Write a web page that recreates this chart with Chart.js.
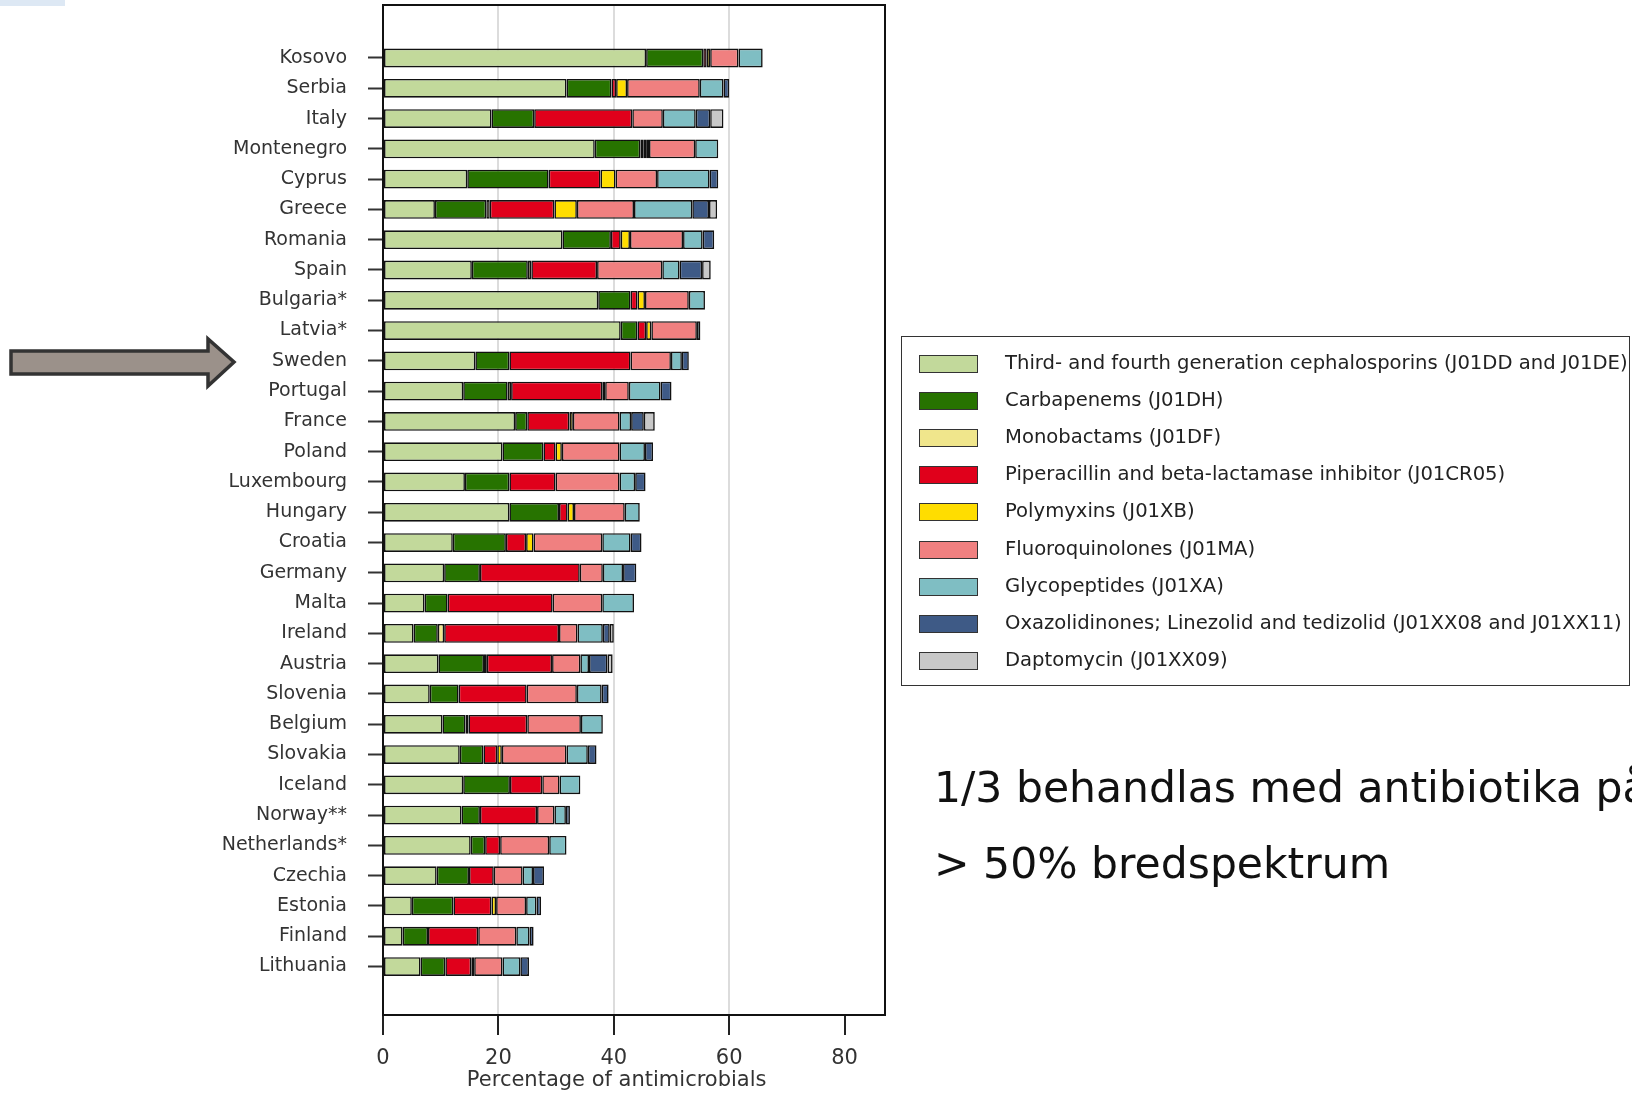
<!DOCTYPE html>
<html>
<head>
<meta charset="utf-8">
<script src="https://cdn.jsdelivr.net/npm/chart.js@4.4.1/dist/chart.umd.min.js"></script>
<style>
  html, body { margin:0; padding:0; background:#fff; }
  body { width:1632px; height:1093px; overflow:hidden; position:relative; }
  #c { position:absolute; left:0; top:0; }
  #topbar { position:absolute; left:0; top:0; width:65px; height:6px; background:#dde8f4; }
  #arrow { position:absolute; left:0; top:330px; }
  #legend { position:absolute; left:901px; top:336px; width:729px; height:350px; border:1.5px solid #333; box-sizing:border-box; }
  .sw { position:absolute; left:17px; width:59px; height:18px; box-sizing:border-box; border:1.5px solid #333; }
  .lt { position:absolute; left:103px; white-space:nowrap; font-family:"DejaVu Sans",sans-serif; font-size:19.6px; color:#222; line-height:20px; }
  .big { position:absolute; left:934px; white-space:nowrap; font-family:"DejaVu Sans",sans-serif; font-size:42.5px; color:#111; line-height:50px; }
</style>
</head>
<body>
<div id="topbar"></div>
<svg id="arrow" width="260" height="70" viewBox="0 330 260 70">
  <polygon points="11,351 208,351 208,339 234,362 208,386 208,374 11,374" fill="#9b918a" stroke="#333" stroke-width="3.5" stroke-linejoin="miter"/>
</svg>
<canvas id="c" width="1632" height="1093"></canvas>
<div id="legend"></div>
<div class="big" style="top:763px;">1/3 behandlas med antibiotika på</div>
<div class="big" style="top:839px;">&gt; 50% bredspektrum</div>
<script>
const countries = ['Kosovo','Serbia','Italy','Montenegro','Cyprus','Greece','Romania','Spain','Bulgaria*','Latvia*','Sweden','Portugal','France','Poland','Luxembourg','Hungary','Croatia','Germany','Malta','Ireland','Austria','Slovenia','Belgium','Slovakia','Iceland','Norway**','Netherlands*','Czechia','Estonia','Finland','Lithuania'];

const seriesNames = [
  'Third- and fourth generation cephalosporins (J01DD and J01DE)',
  'Carbapenems (J01DH)',
  'Monobactams (J01DF)',
  'Piperacillin and beta-lactamase inhibitor (J01CR05)',
  'Polymyxins (J01XB)',
  'Fluoroquinolones (J01MA)',
  'Glycopeptides (J01XA)',
  'Oxazolidinones; Linezolid and tedizolid (J01XX08 and J01XX11)',
  'Daptomycin (J01XX09)'
];

const cephalosporins = [45.6,31.8,18.8,36.7,14.6,9.0,31.1,15.4,37.3,41.2,16.0,13.9,22.9,20.7,14.2,21.9,12.1,10.6,7.2,5.3,9.6,8.1,10.3,13.3,13.9,13.6,15.2,9.3,5.0,3.4,6.5];
const carbapenems    = [9.9,7.8,7.4,7.9,14.1,8.9,8.4,9.7,5.6,2.9,5.9,7.7,2.1,7.1,7.7,8.6,9.2,6.2,4.0,4.2,7.9,5.0,4.0,4.1,8.1,3.2,2.5,5.6,7.2,4.4,4.3];
const monobactams    = [0,0,0,0.5,0,0.6,0,0.6,0,0,0,0.6,0,0,0,0,0,0,0,1.1,0.5,0,0.5,0,0,0,0,0,0,0,0];
const piperacillin   = [0.6,0.8,17.0,0.5,9.0,11.2,1.7,11.4,1.2,1.5,21.0,15.8,7.3,2.1,8.0,1.5,3.5,17.3,18.2,19.9,11.3,11.8,10.2,2.4,5.6,9.9,2.6,4.3,6.6,8.7,4.5];
const polymyxins     = [0.6,1.9,0,0.5,2.6,3.9,1.6,0,1.3,0.9,0,0.5,0.6,1.1,0,1.1,1.3,0,0,0,0,0,0,0.8,0,0,0,0,0.8,0,0.5];
const fluoroquinolones = [4.9,12.6,5.3,8.0,7.2,9.9,9.2,11.3,7.6,7.9,7.0,4.1,8.1,10.0,11.1,8.8,11.9,4.0,8.6,3.2,4.9,8.7,9.3,11.2,3.0,3.0,8.5,5.0,5.2,6.6,4.9];
const glycopeptides  = [4.2,4.1,5.7,4.0,9.1,10.1,3.4,3.0,2.8,0.6,1.9,5.5,2.0,4.4,2.7,2.6,4.9,3.5,5.5,4.4,1.5,4.3,3.8,3.7,3.6,2.0,3.0,1.8,1.8,2.3,3.1];
const oxazolidinones = [0,1.0,2.5,0,1.5,2.9,2.0,3.9,0,0,1.2,1.9,2.2,1.4,1.8,0,1.9,2.3,0,1.2,3.2,1.2,0,1.5,0,0.7,0,1.9,0.8,0.7,1.5];
const daptomycin     = [0,0,2.3,0,0,1.4,0,1.5,0,0,0,0,1.9,0,0,0,0,0,0,0.7,0.9,0,0,0,0,0,0,0,0,0,0];

const xTicks = [0,20,40,60,80];
const xTitle = 'Percentage of antimicrobials';

const seriesValues = [cephalosporins, carbapenems, monobactams, piperacillin, polymyxins, fluoroquinolones, glycopeptides, oxazolidinones, daptomycin];
const seriesColors = ['#c2d99b','#277300','#f0e68c','#e0001b','#ffdd00','#f08080','#7fbec3','#3e5a86','#c8c8c8'];

const datasets = seriesValues.map((vals, k) => ({
  label: seriesNames[k],
  data: vals.map((v, i) => ({ x: v > 0 ? v : null, y: i })),
  backgroundColor: seriesColors[k],
  borderColor: '#111',
  borderWidth: 1.6,
  borderSkipped: false,
  categoryPercentage: 1,
  barPercentage: 0.62
}));

// HTML legend built from the same series arrays
const leg = document.getElementById('legend');
seriesNames.forEach((name, k) => {
  const cy = 27 + k * 37.1;
  const sw = document.createElement('div');
  sw.className = 'sw';
  sw.style.top = (cy - 9) + 'px';
  sw.style.background = seriesColors[k];
  leg.appendChild(sw);
  const t = document.createElement('div');
  t.className = 'lt';
  t.style.top = (cy - 11) + 'px';
  t.textContent = name;
  leg.appendChild(t);
});

const FONT = '"DejaVu Sans",sans-serif';

const framePlugin = {
  id: 'frame',
  afterDraw(chart) {
    const a = chart.chartArea, ctx = chart.ctx;
    ctx.save();
    ctx.strokeStyle = '#111';
    ctx.lineWidth = 2;
    ctx.strokeRect(a.left, a.top, a.right - a.left, a.bottom - a.top);
    // axis title (offset left of centre, as in the original)
    ctx.fillStyle = '#333';
    ctx.font = '21px ' + FONT;
    ctx.textAlign = 'center';
    ctx.textBaseline = 'middle';
    ctx.fillText(xTitle, chart.scales.x.getPixelForValue(40.5), 1081);
    ctx.restore();
  }
};

new Chart(document.getElementById('c'), {
  type: 'bar',
  data: { datasets },
  options: {
    indexAxis: 'y',
    responsive: false,
    devicePixelRatio: 1,
    animation: false,
    layout: { padding: { left: 0, top: 5, right: 1632 - 885, bottom: 0 } },
    plugins: { legend: { display: false }, tooltip: { enabled: false } },
    scales: {
      x: {
        type: 'linear',
        stacked: true,
        min: 0,
        max: 87,
        offset: false,
        afterBuildTicks: s => { s.ticks = xTicks.map(v => ({ value: v })); },
        afterFit: s => { s.height = 1093 - 1015; },
        grid: {
          offset: false,
          color: c => (c.tick && [20,40,60].includes(c.tick.value)) ? '#dcdcdc' : 'rgba(0,0,0,0)',
          lineWidth: 2,
          tickColor: '#222',
          tickLength: 20,
          tickWidth: 2,
          drawTicks: true
        },
        border: { display: false },
        ticks: { color: '#333', font: { family: FONT, size: 21 }, padding: 11, maxRotation: 0 },
        title: { display: false }
      },
      y: {
        type: 'linear',
        stacked: true,
        reverse: true,
        offset: false,
        min: -1.75,
        max: 31.6,
        afterBuildTicks: s => { s.ticks = countries.map((c, i) => ({ value: i })); },
        afterFit: s => { s.width = 383; s.paddingTop = 0; s.paddingBottom = 0; },
        grid: { offset: false, drawOnChartArea: false, drawTicks: true, tickLength: 15, tickColor: '#333', tickWidth: 2 },
        border: { display: false },
        ticks: { color: '#333', font: { family: FONT, size: 19 }, padding: 21, autoSkip: false,
                 callback: v => countries[v] !== undefined ? countries[v] : '' }
      }
    }
  },
  plugins: [framePlugin]
});
</script>
</body>
</html>
